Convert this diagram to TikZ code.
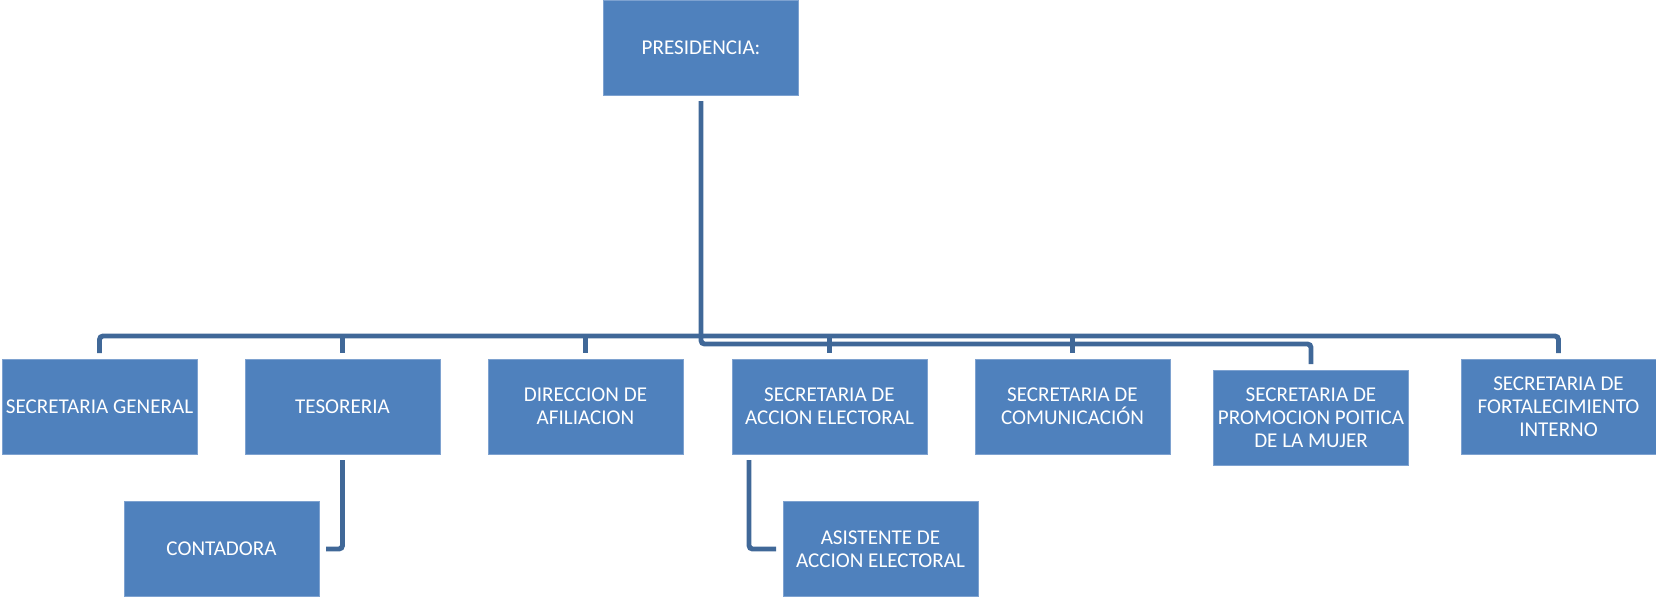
\documentclass[tikz,border=0pt]{standalone}
\usepackage{fontspec}
\setmainfont{Carlito}
\usetikzlibrary{calc}
\definecolor{caja}{RGB}{79,129,189}
\definecolor{cajarand}{RGB}{126,162,208}
\definecolor{linie}{RGB}{64,104,152}

\begin{document}
\begin{tikzpicture}[x=0.02cm,y=-0.02cm,
	box/.style={draw=cajarand,line width=0.4pt,fill=caja,text=white,minimum width=195*0.02cm,minimum height=95*0.02cm,inner sep=0pt,outer sep=0pt,align=center,font=\fontsize{12}{13}\selectfont},
	con/.style={draw=linie,line width=2.8pt,rounded corners=2pt}]
	\useasboundingbox (0,0) rectangle (1656,596);
	\node[box] (P) at (701,47.5) {PRESIDENCIA:};
		\node[box] (SG) at (99.5,406.5) {SECRETARIA GENERAL};
		\node[box] (TES) at (342.5,406.5) {TESORERIA};
		\node[box] (DIR) at (585.5,406.5) {DIRECCION DE\\AFILIACION};
		\node[box] (ACC) at (829.5,406.5) {SECRETARIA DE\\ACCION ELECTORAL};
		\node[box] (COM) at (1072.5,406.5) {SECRETARIA DE\\COMUNICACIÓN};
		\node[box] (MUJ) at (1311,417.5) {SECRETARIA DE\\PROMOCION POITICA\\DE LA MUJER};
		\node[box] (FOR) at (1558.5,406.5) {SECRETARIA DE\\FORTALECIMIENTO\\INTERNO};
		\node[box] (CON) at (221.5,549) {CONTADORA};
		\node[box] (ASI) at (880.5,549) {ASISTENTE DE\\ACCION ELECTORAL};
		\coordinate (L1) at (0,336);
		\coordinate (L2) at (0,344);
		% obere Linie
		\draw[con] ($(SG.north)+(0,-6)$) -- (SG.north |- L1) -- (FOR.north |- L1) -- ($(FOR.north)+(0,-6)$);
		\foreach \k in {TES,DIR,ACC,COM}
			\draw[con] (\k.north |- L1) -- ($(\k.north)+(0,-6)$);
		% untere Linie
		\draw[con] ($(P.south)+(0,6)$) -- (P.south |- L2) -- (MUJ.north |- L2) -- ($(MUJ.north)+(0,-6)$);
		\draw[con] ($(TES.south)+(0,6)$) |- ($(CON.east)+(7,0)$);
		\draw[con] ($(ACC.south west)+(17,6)$) |- ($(ASI.west)+(-7,0)$);
\end{tikzpicture}
\end{document}
